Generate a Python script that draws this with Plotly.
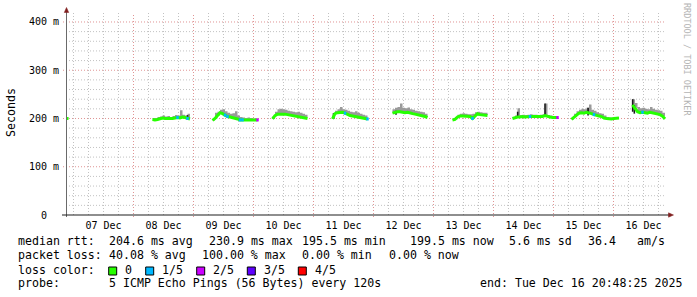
import pandas as pd
import plotly.graph_objects as go

# ---------------- data ----------------
seg_start = ["2025-12-06 21:00", "2025-12-08 07:36", "2025-12-09 07:36", "2025-12-10 07:36",
             "2025-12-11 07:36", "2025-12-12 07:36", "2025-12-13 07:36", "2025-12-14 07:36",
             "2025-12-15 07:12", "2025-12-16 07:36"]

seg_median = [
    [200, 200],
    [198, 197, 198, 200, 201, 200, 200, 199, 200, 201, 202, 201, 203, 202, 200, 199],
    [196, 200, 206, 212, 210, 207, 204, 203, 202, 200, 199, 197, 197, 196, 197, 196, 197, 196, 197],
    [199, 206, 209, 209, 210, 209, 208, 207, 206, 205, 204, 204, 203, 202, 200],
    [199, 210, 212, 212, 213, 211, 208, 206, 205, 204, 203, 202, 201, 200, 199],
    [211, 213, 214, 214, 213, 212, 213, 211, 210, 209, 208, 207, 206, 204, 202],
    [197, 198, 203, 205, 205, 205, 205, 204, 200, 206, 210, 208, 207, 207, 206],
    [200, 202, 203, 203, 204, 203, 204, 204, 204, 204, 203, 204, 204, 206, 204, 203, 202, 202, 202],
    [198, 203, 208, 211, 212, 211, 213, 212, 210, 208, 206, 205, 204, 201, 200, 199, 199, 200, 200, 201],
    [228, 222, 214, 212, 213, 212, 211, 213, 212, 211, 210, 208, 205, 199],
]

seg_smoke_hi = [
    [202, 202],
    [201, 201, 203, 204, 206, 204, 205, 203, 205, 207, 206, 217, 208, 206, 210, 204],
    [199, 212, 214, 218, 219, 215, 212, 210, 211, 215, 206, 203, 202, 201, 202, 201, 200, 200, 199],
    [204, 214, 219, 220, 219, 218, 216, 215, 214, 213, 214, 212, 210, 208, 205],
    [203, 216, 219, 224, 219, 218, 216, 214, 213, 215, 212, 210, 208, 206, 202],
    [219, 222, 224, 231, 222, 221, 223, 219, 218, 216, 215, 214, 213, 210, 206],
    [200, 203, 208, 210, 211, 210, 209, 209, 210, 213, 214, 213, 212, 212, 211],
    [203, 206, 221, 207, 208, 207, 208, 209, 208, 208, 207, 208, 209, 231, 207, 206, 205, 205, 204],
    [201, 210, 215, 218, 220, 219, 222, 229, 218, 216, 213, 211, 210, 206, 203, 202, 202, 203, 203, 203],
    [240, 232, 224, 221, 222, 220, 219, 224, 220, 218, 217, 216, 212, 204],
]

seg_loss = [
    [0, 0],
    [0, 0, 0, 0, 0, 0, 0, 0, 0, 0, 1, 0, 0, 0, 1, 0],
    [0, 0, 0, 0, 0, 1, 1, 0, 0, 0, 0, 1, 1, 0, 0, 0, 0, 0, 2],
    [0, 0, 0, 0, 0, 0, 0, 0, 0, 0, 0, 0, 0, 0, 0],
    [0, 0, 0, 0, 0, 1, 0, 0, 0, 0, 0, 0, 0, 0, 1],
    [0, 0, 0, 0, 0, 0, 0, 0, 0, 0, 0, 0, 0, 0, 0],
    [0, 0, 0, 0, 0, 0, 0, 0, 1, 0, 0, 0, 0, 0, 0],
    [0, 0, 0, 0, 0, 0, 0, 1, 0, 0, 0, 0, 0, 0, 0, 0, 0, 0, 2],
    [0, 0, 0, 0, 0, 0, 0, 0, 0, 1, 0, 0, 0, 0, 0, 0, 0, 0, 0, 0],
    [0, 0, 0, 0, 1, 0, 0, 0, 0, 0, 0, 0, 0, 0],
]

dark_time = ["2025-12-08 21:36", "2025-12-11 08:00", "2025-12-12 09:00", "2025-12-14 09:40",
             "2025-12-14 20:36", "2025-12-15 13:50", "2025-12-16 07:40", "2025-12-16 08:20"]
dark_lo = [199, 200, 208, 204, 205, 206, 214, 210]
dark_hi = [207, 211, 216, 214, 231, 222, 240, 228]

loss_labels = ["0", "1/5", "2/5", "3/5", "4/5"]
loss_colors = ["#26ff00", "#00b8ff", "#cc00ff", "#5e00ff", "#ff0000"]

day_labels = ["07 Dec", "08 Dec", "09 Dec", "10 Dec", "11 Dec", "12 Dec", "13 Dec", "14 Dec", "15 Dec", "16 Dec"]
day_noons = ["2025-12-%02d 12:00" % d for d in range(7, 17)]
x_range = ["2025-12-06 21:00", "2025-12-16 21:00"]

y_tickvals = [0, 100, 200, 300, 400]
y_ticktext = ["0\u00a0\u00a0", "100 m", "200 m", "300 m", "400 m"]
y_max = 418.6

line1 = [(16, "median rtt:"), (107, "204.6 ms avg"), (207.3, "230.9 ms max"), (300, "195.5 ms min"),
         (407.7, "199.5 ms now"), (506.7, "5.6 ms sd"), (585.7, "36.4"), (635, "am/s")]
line2 = [(16, "packet loss:"), (107.3, "40.08 % avg"), (200, "100.00 % max"), (300, "0.00 % min"),
         (386.7, "0.00 % now")]
line4 = [(16, "probe:"), (107.3, "5 ICMP Echo Pings (56 Bytes) every 120s"),
         (478.3, "end: Tue Dec 16 20:48:25 2025")]
legend_box_x = [108.7, 145.7, 196.7, 247.3, 298.3]
legend_text_x = [123, 160, 210.7, 261.7, 312.7]

# ---------------- geometry ----------------
W, H = 697, 297
L, T = 66, 13
PW, PH = 600, 202
MONO = "DejaVu Sans Mono"


def px(xp):
    return (xp - L) / PW


def py(yp):
    return (T + PH - yp) / PH


fig = go.Figure()

# smoke
for st, med, hi in zip(seg_start, seg_median, seg_smoke_hi):
    t = pd.date_range(st, periods=len(med), freq="h")
    fig.add_trace(go.Scatter(x=t, y=med, mode="lines", line=dict(width=0, shape="hv"),
                             hoverinfo="skip", showlegend=False))
    fig.add_trace(go.Scatter(x=t, y=hi, mode="lines", line=dict(width=0, shape="hv"),
                             fill="tonexty", fillcolor="#9a9a9a", hoverinfo="skip", showlegend=False))

# dark smoke spikes
dx, dy = [], []
for t, lo, hi in zip(dark_time, dark_lo, dark_hi):
    dx += [t, t, None]
    dy += [lo, hi, None]
fig.add_trace(go.Scatter(x=dx, y=dy, mode="lines", line=dict(color="#1a1a1a", width=1.6),
                         hoverinfo="skip", showlegend=False))

# median lines
for st, med in zip(seg_start, seg_median):
    t = pd.date_range(st, periods=len(med), freq="h")
    fig.add_trace(go.Scatter(x=t, y=med, mode="lines", line=dict(color=loss_colors[0], width=3),
                             hoverinfo="skip", showlegend=False))

# loss-coloured pieces of the median
half = pd.Timedelta(minutes=30)
for lvl in range(1, 5):
    lx, ly = [], []
    for st, med, loss in zip(seg_start, seg_median, seg_loss):
        t = pd.date_range(st, periods=len(med), freq="h")
        for ti, v, l in zip(t, med, loss):
            if l == lvl:
                lx += [ti - half, ti + half, None]
                ly += [v, v, None]
    if lx:
        fig.add_trace(go.Scatter(x=lx, y=ly, mode="lines", line=dict(color=loss_colors[lvl], width=3),
                                 hoverinfo="skip", showlegend=False))

fig.update_layout(
    width=W, height=H, autosize=False,
    margin=dict(l=L, r=W - L - PW, t=T, b=H - T - PH, pad=0),
    paper_bgcolor="white", plot_bgcolor="white",
    showlegend=False,
    xaxis=dict(type="date", range=x_range, tickmode="array", tickvals=day_noons, ticktext=day_labels,
               showgrid=False, ticks="", showline=False, zeroline=False, ticklabelstandoff=3,
               tickfont=dict(family=MONO, size=10, color="black")),
    yaxis=dict(range=[0, y_max], tickmode="array", tickvals=y_tickvals, ticktext=y_ticktext,
               showgrid=False, ticks="", zeroline=False, showline=False, ticklabelstandoff=6,
               tickfont=dict(family=MONO, size=10, color="black")),
)

MAJ = "#e09494"
MIN = "#c2c2c2"
DASH = "1px,2px"

shapes = []
# grid: vertical every 6 h, red at midnights
for g in pd.date_range("2025-12-07 00:00", "2025-12-16 18:00", freq="6h"):
    major = g.hour == 0 and g.day >= 8
    shapes.append(dict(type="line", xref="x", yref="paper", x0=g, x1=g, y0=py(217 if major else 215), y1=1,
                       layer="below", line=dict(color=MAJ if major else MIN, width=1, dash=DASH)))
# grid: horizontal every 20 m, red every 100 m
for v in range(20, 420, 20):
    major = v % 100 == 0
    shapes.append(dict(type="line", xref="paper", yref="y", x0=px(63 if major else 66), x1=1, y0=v, y1=v,
                       layer="below", line=dict(color=MAJ if major else MIN, width=1, dash=DASH)))
# axes
shapes.append(dict(type="line", xref="paper", yref="paper", x0=px(66.5), x1=px(66.5),
                   y0=py(217), y1=py(11), line=dict(color="#6a6a6a", width=1)))
shapes.append(dict(type="line", xref="paper", yref="paper", x0=px(62), x1=px(669),
                   y0=py(215), y1=py(215), line=dict(color="#1f1f1f", width=1.2)))
# arrows
shapes.append(dict(type="path", xref="paper", yref="paper",
                   path="M %f %f L %f %f L %f %f Z" % (px(64.3), py(12.5), px(68.7), py(12.5), px(66.5), py(7.5)),
                   fillcolor="#801f1f", line=dict(color="#801f1f", width=0.5)))
shapes.append(dict(type="path", xref="paper", yref="paper",
                   path="M %f %f L %f %f L %f %f Z" % (px(668.5), py(212.8), px(668.5), py(217.2), px(673.5), py(215)),
                   fillcolor="#801f1f", line=dict(color="#801f1f", width=0.5)))
# legend swatches
for bx, col in zip(legend_box_x, loss_colors):
    shapes.append(dict(type="rect", xref="paper", yref="paper", x0=px(bx), x1=px(bx + 8),
                       y0=py(275), y1=py(267), fillcolor=col, line=dict(color="black", width=1)))
fig.update_layout(shapes=shapes)

ann = []
FS = 11.6


def txt(xp, ymid, s, size=FS, color="black"):
    ann.append(dict(x=px(xp), y=py(ymid), xref="paper", yref="paper", text=s, showarrow=False,
                    xanchor="left", yanchor="middle", font=dict(family=MONO, size=size, color=color)))


for xp, s in line1:
    txt(xp, 241, s)
for xp, s in line2:
    txt(xp, 255, s)
txt(16, 269.5, "loss color:")
for xp, s in zip(legend_text_x, loss_labels):
    txt(xp, 269.5, s)
for xp, s in line4:
    txt(xp, 283, s)

ann.append(dict(x=px(11), y=py(113), xref="paper", yref="paper", text="Seconds", showarrow=False,
                textangle=-90, xanchor="center", yanchor="middle",
                font=dict(family=MONO, size=FS, color="black")))
ann.append(dict(x=px(687), y=py(59), xref="paper", yref="paper", text="RRDTOOL / TOBI OETIKER",
                showarrow=False, textangle=90, xanchor="center", yanchor="middle",
                font=dict(family=MONO, size=8.5, color="#b4b4b4")))
fig.update_layout(annotations=ann)

fig.write_html("out.html")
